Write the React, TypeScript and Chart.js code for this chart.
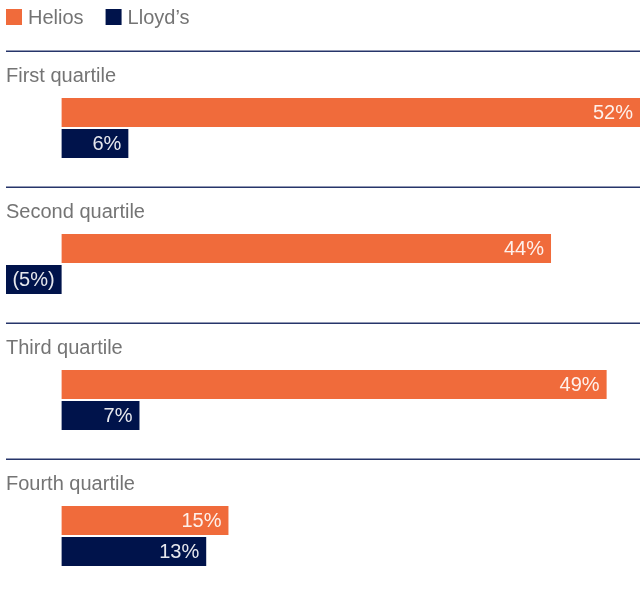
import React, { useEffect, useRef } from "react";
import { Chart, registerables } from "chart.js";

Chart.register(...registerables);

const categories = ["First quartile", "Second quartile", "Third quartile", "Fourth quartile"];
const heliosValues = [52, 44, 49, 15];
const lloydsValues = [6, -5, 7, 13];
const seriesNames = ["Helios", "Lloyd\u2019s"];
const ORANGE = "#f06b3b";
const NAVY = "#00134b";
const FONT = "20px 'Liberation Sans', Arial, sans-serif";
const TEXT = "#747474";

const fmt = (v: number) => (v < 0 ? `(${Math.abs(v)}%)` : `${v}%`);

const decorPlugin = {
  id: "decor",
  afterDatasetsDraw(chart: any) {
    const ctx = chart.ctx;
    const y = chart.scales.y;
    const area = chart.chartArea;
    ctx.save();
    categories.forEach((c, i) => {
      const cy = y.getPixelForValue(i);
      ctx.strokeStyle = "#26356a";
      ctx.lineWidth = 1.5;
      ctx.beginPath();
      ctx.moveTo(area.left, Math.round(cy - 77) + 0.25);
      ctx.lineTo(chart.width, Math.round(cy - 77) + 0.25);
      ctx.stroke();
      ctx.fillStyle = TEXT;
      ctx.font = FONT;
      ctx.textAlign = "left";
      ctx.textBaseline = "middle";
      ctx.fillText(c, area.left, cy - 52);
    });
    chart.data.datasets.forEach((ds: any, di: number) => {
      const meta = chart.getDatasetMeta(di);
      meta.data.forEach((bar: any, i: number) => {
        const v = ds.data[i];
        const right = Math.max(bar.x, bar.base);
        ctx.fillStyle = "rgba(255,255,255,0.9)";
        ctx.font = FONT;
        ctx.textAlign = "right";
        ctx.textBaseline = "middle";
        ctx.fillText(fmt(v), right - 7, bar.y + 1);
      });
    });
    let lx = 6;
    chart.data.datasets.forEach((ds: any) => {
      ctx.fillStyle = ds.backgroundColor;
      ctx.fillRect(lx, 9, 16, 16);
      ctx.fillStyle = TEXT;
      ctx.font = FONT;
      ctx.textAlign = "left";
      ctx.textBaseline = "middle";
      ctx.fillText(ds.label, lx + 22, 18);
      lx += 22 + ctx.measureText(ds.label).width + 22;
    });
    ctx.restore();
  },
};

export default function App() {
  const ref = useRef<HTMLCanvasElement>(null);
  useEffect(() => {
    if (!ref.current) return;
    const chart = new Chart(ref.current, {
      type: "bar",
      data: {
        labels: categories,
        datasets: [
          { label: seriesNames[0], data: heliosValues, backgroundColor: ORANGE, clip: false } as any,
          { label: seriesNames[1], data: lloydsValues, backgroundColor: NAVY, clip: false } as any,
        ],
      },
      options: {
        indexAxis: "y",
        animation: false,
        responsive: false,
        layout: { padding: { left: 6, right: 0, top: 128, bottom: 59 } },
        datasets: { bar: { categoryPercentage: 62 / 136, barPercentage: 29 / 31 } },
        scales: {
          x: { display: false, min: -5, max: 52 },
          y: { display: false, offset: false },
        },
        plugins: { legend: { display: false }, tooltip: { enabled: false } },
      },
      plugins: [decorPlugin],
    });
    return () => chart.destroy();
  }, []);
  return (
    <div style={{ position: "absolute", left: 0, top: 0, width: 640, height: 595, background: "#fff" }}>
      <canvas ref={ref} width={640} height={595} style={{ width: 640, height: 595 }} />
    </div>
  );
}
